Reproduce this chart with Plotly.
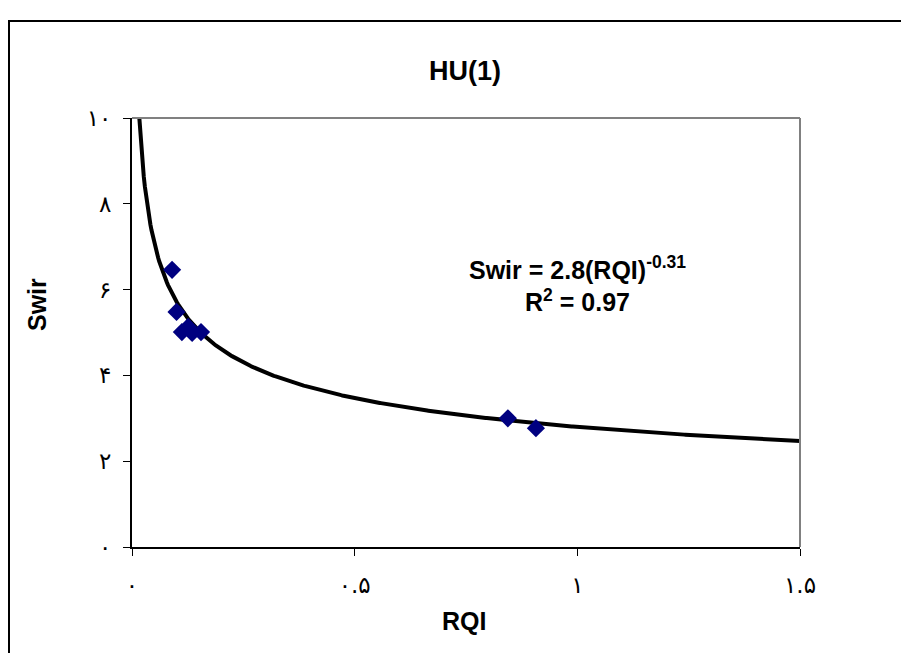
import numpy as np
import plotly.graph_objects as go

# Data
rqi = [0.09, 0.10, 0.112, 0.126, 0.135, 0.155, 0.844, 0.907]
swir = [6.46, 5.48, 5.01, 5.13, 4.99, 5.01, 3.00, 2.77]

# Power fit: Swir = 2.8 * RQI^-0.31
fit_a = 2.8
fit_b = -0.31

x_tick_vals = [0, 0.5, 1, 1.5]
x_tick_text = ["۰", "۰.۵", "۱", "۱.۵"]
y_tick_vals = [0, 2, 4, 6, 8, 10]
y_tick_text = ["۰", "۲", "۴", "۶", "۸", "۱۰"]

FONT = "Liberation Sans, Arial, DejaVu Sans, sans-serif"

xfit = np.linspace(0.0165, 1.5, 600)
yfit = fit_a * xfit ** fit_b

# page pixel -> paper helpers (page has 8px body margin)
def px(page_x):
    return (page_x - 132) / 668

def py(page_y):
    return (547 - page_y) / 429

fig = go.Figure()
fig.add_trace(go.Scatter(x=xfit, y=yfit, mode="lines",
                         line=dict(color="black", width=4), showlegend=False,
                         hoverinfo="skip"))
fig.add_trace(go.Scatter(x=rqi, y=swir, mode="markers",
                         marker=dict(symbol="diamond", size=14, color="#000080"),
                         showlegend=False))

fig.update_layout(
    width=909, height=653,
    margin=dict(l=124, r=117, t=110, b=114),
    paper_bgcolor="white", plot_bgcolor="white",
    font=dict(family=FONT, color="black", size=16),
    title=dict(text="<b>HU(1)</b>", x=(465 - 8) / 909, xanchor="center",
               y=1 - (71 - 8) / 653, yanchor="middle",
               font=dict(size=27, family=FONT)),
    xaxis=dict(range=[0, 1.5], tickvals=x_tick_vals, ticktext=x_tick_text,
               showgrid=False, zeroline=False, showline=True, linecolor="black",
               linewidth=2, ticks="outside", ticklen=7, tickcolor="black",
               tickfont=dict(size=23, family="DejaVu Sans"), ticklabelstandoff=9,
               mirror=False),
    yaxis=dict(range=[0, 10], tickvals=y_tick_vals, ticktext=y_tick_text,
               showgrid=False, zeroline=False, showline=True, linecolor="black",
               linewidth=2, ticks="outside", ticklen=7, tickcolor="black",
               tickfont=dict(size=23, family="DejaVu Sans"), ticklabelstandoff=7),
    shapes=[
        dict(type="line", xref="paper", yref="paper", x0=0, x1=1, y0=1, y1=1,
             line=dict(color="#808080", width=2)),
        dict(type="line", xref="paper", yref="paper", x0=1, x1=1, y0=0, y1=1,
             line=dict(color="#808080", width=2)),
        dict(type="rect", xref="paper", yref="paper",
             x0=px(9), x1=px(930), y0=py(680), y1=py(21),
             line=dict(color="black", width=2), layer="below"),
    ],
    annotations=[
        dict(text="<b>Swir = 2.8(RQI)<sup>-0.31</sup><br>R<sup>2</sup> = 0.97</b>",
             xref="paper", yref="paper", x=px(577), y=py(284),
             showarrow=False, xanchor="center", yanchor="middle",
             font=dict(size=25, family=FONT)),
        dict(text="<b>Swir</b>", xref="paper", yref="paper",
             x=px(37), y=py(304), textangle=-90,
             showarrow=False, xanchor="center", yanchor="middle",
             font=dict(size=25, family=FONT)),
        dict(text="<b>RQI</b>", xref="paper", yref="paper",
             x=px(464), y=py(621),
             showarrow=False, xanchor="center", yanchor="middle",
             font=dict(size=25, family=FONT)),
    ],
)

fig.write_html("out.html")
